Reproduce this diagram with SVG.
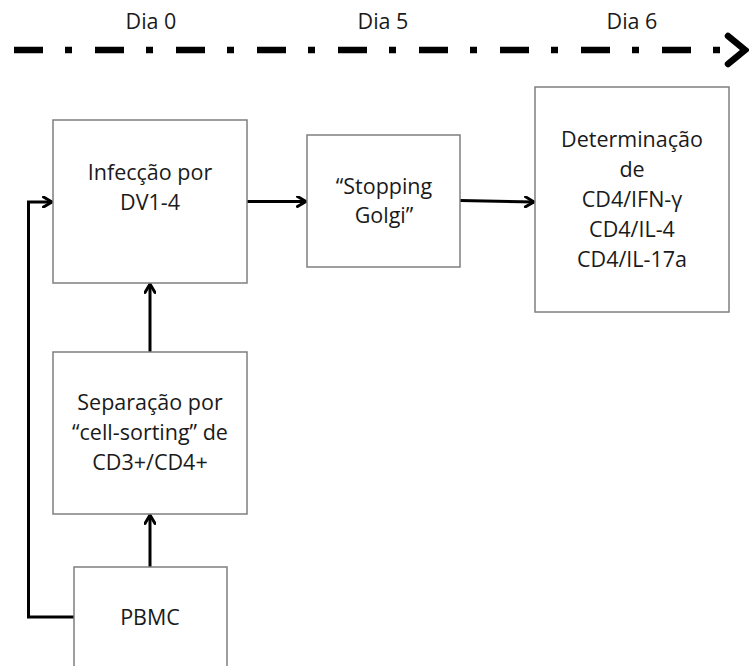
<svg xmlns="http://www.w3.org/2000/svg" width="749" height="666" viewBox="0 0 749 666">
  <style>
    .box { fill: #ffffff; stroke: #7f7f7f; stroke-width: 1.5; }
    .lbl { font-family: "Open Sans", "Liberation Sans", sans-serif; font-size: 21.5px; fill: #1a1a1a; text-anchor: middle; }
    .wire { fill: none; stroke: #000000; stroke-width: 3; }
    .time { fill: none; stroke: #000000; stroke-width: 6.5; }
  </style>
  <defs>
    <marker id="head" viewBox="0 0 12 12" refX="10.5" refY="6" markerWidth="12" markerHeight="12" markerUnits="userSpaceOnUse" orient="auto">
      <path d="M2,1 L10.5,6 L2,11" fill="none" stroke="#000000" stroke-width="3" stroke-linecap="round" stroke-linejoin="miter"/>
    </marker>
  </defs>
  <rect width="749" height="666" fill="#ffffff"/>

  <!-- timeline -->
  <g id="timeline">
    <line class="time" x1="14" y1="50" x2="720" y2="50" stroke-dasharray="29 22 7 23"/>
    <path d="M728,36 L745,50 L728,64" fill="none" stroke="#000000" stroke-width="6.5" stroke-linecap="round" stroke-linejoin="miter"/>
    <text class="lbl" x="151" y="29">Dia 0</text>
    <text class="lbl" x="383" y="29">Dia 5</text>
    <text class="lbl" x="632" y="29">Dia 6</text>
  </g>

  <!-- connectors -->
  <g id="connectors">
    <line class="wire" x1="247" y1="201.5" x2="306" y2="201.5" marker-end="url(#head)"/>
    <line class="wire" x1="460" y1="200.5" x2="534" y2="202" marker-end="url(#head)"/>
    <line class="wire" x1="150" y1="352" x2="150" y2="284" marker-end="url(#head)"/>
    <line class="wire" x1="150" y1="567" x2="150" y2="515" marker-end="url(#head)"/>
    <polyline class="wire" points="74,617 28.5,617 28.5,202 52,202" marker-end="url(#head)"/>
  </g>

  <g id="infeccao">
    <rect class="box" x="53" y="120" width="194" height="163"/>
    <text class="lbl" x="150" y="180">Infecção por</text>
    <text class="lbl" x="150" y="210">DV1-4</text>
  </g>

  <g id="stopping">
    <rect class="box" x="307" y="135" width="153" height="132"/>
    <text class="lbl" x="384" y="194">“Stopping</text>
    <text class="lbl" x="384" y="223">Golgi”</text>
  </g>

  <g id="determinacao">
    <rect class="box" x="535" y="87" width="194" height="225"/>
    <text class="lbl" x="632" y="147">Determinação</text>
    <text class="lbl" x="632" y="177">de</text>
    <text class="lbl" x="632" y="207">CD4/IFN-γ</text>
    <text class="lbl" x="632" y="237">CD4/IL-4</text>
    <text class="lbl" x="632" y="267">CD4/IL-17a</text>
  </g>

  <g id="separacao">
    <rect class="box" x="53" y="352" width="194" height="162"/>
    <text class="lbl" x="150" y="410">Separação por</text>
    <text class="lbl" x="150" y="440">“cell-sorting” de</text>
    <text class="lbl" x="150" y="470">CD3+/CD4+</text>
  </g>

  <g id="pbmc">
    <rect class="box" x="74" y="567" width="153" height="110"/>
    <text class="lbl" x="150" y="625">PBMC</text>
  </g>
</svg>
